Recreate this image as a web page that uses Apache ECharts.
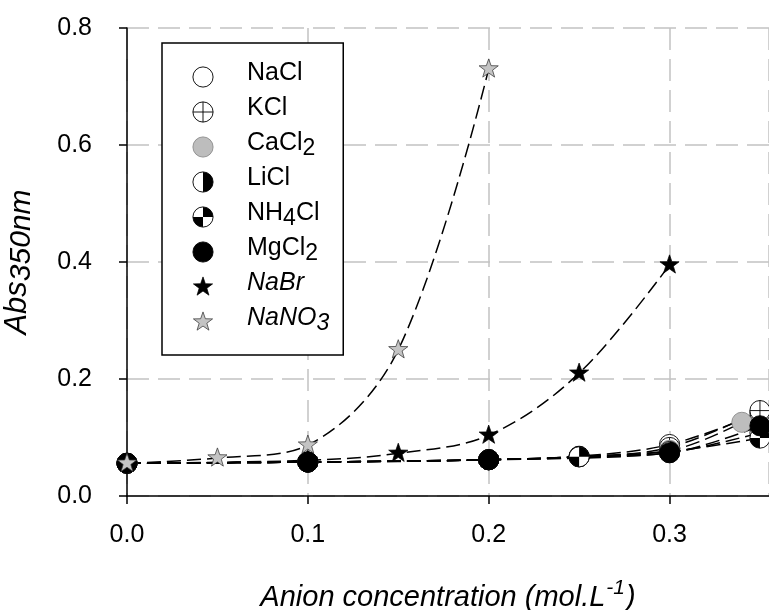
<!DOCTYPE html>
<html>
<head>
<meta charset="utf-8">
<script src="https://cdn.jsdelivr.net/npm/echarts@6/dist/echarts.min.js"></script>
<style>
  html, body { margin: 0; padding: 0; background: #fff; }
  #chart { width: 769px; height: 610px; }
</style>
</head>
<body>
<div id="chart"></div>
<script>
// values
const seriesNames = ["NaCl", "KCl", "CaCl2", "LiCl", "NH4Cl", "MgCl2", "NaBr", "NaNO3"];

const naclX = [0, 0.1, 0.2, 0.25, 0.3, 0.35];
const naclY = [0.056, 0.058, 0.062, 0.068, 0.088, 0.142];
const kclX = [0, 0.1, 0.2, 0.25, 0.3, 0.35];
const kclY = [0.056, 0.058, 0.062, 0.067, 0.083, 0.146];
const cacl2X = [0, 0.1, 0.2, 0.3, 0.34];
const cacl2Y = [0.056, 0.058, 0.062, 0.078, 0.126];
const liclX = [0, 0.1, 0.2, 0.25, 0.3, 0.35];
const liclY = [0.056, 0.058, 0.062, 0.067, 0.074, 0.108];
const nh4clX = [0, 0.1, 0.2, 0.25, 0.3, 0.35];
const nh4clY = [0.056, 0.058, 0.062, 0.067, 0.076, 0.099];
const mgcl2X = [0, 0.1, 0.2, 0.3, 0.35];
const mgcl2Y = [0.056, 0.058, 0.062, 0.074, 0.12];
const nabrX = [0, 0.1, 0.15, 0.2, 0.25, 0.3];
const nabrY = [0.056, 0.061, 0.073, 0.104, 0.21, 0.395];
const nano3X = [0, 0.05, 0.1, 0.15, 0.2];
const nano3Y = [0.056, 0.065, 0.087, 0.25, 0.73];

const xTicks = [0, 0.1, 0.2, 0.3];
const yTicks = [0, 0.2, 0.4, 0.6, 0.8];

const FONT = 'Arial, "Liberation Sans", sans-serif';

function svgIcon(body) {
  const svg = "<svg xmlns='http://www.w3.org/2000/svg' width='24' height='24' viewBox='0 0 24 24'>" + body + "</svg>";
  return "image://data:image/svg+xml;utf8," + encodeURIComponent(svg);
}
const ring = "<circle cx='12' cy='12' r='11' fill='white' stroke='black' stroke-width='1'/>";
const starPath = "M12 1 L14.59 8.44 L22.46 8.6 L16.18 13.36 L18.47 20.9 L12 16.4 L5.53 20.9 L7.82 13.36 L1.54 8.6 L9.41 8.44 Z";

const icons = {
  NaCl: svgIcon(ring),
  KCl: svgIcon(ring + "<path d='M12 1 V23 M1 12 H23' stroke='black' stroke-width='1'/>"),
  CaCl2: svgIcon("<circle cx='12' cy='12' r='11' fill='#bdbdbd' stroke='#8c8c8c' stroke-width='1'/>"),
  LiCl: svgIcon(ring + "<path d='M12 1 A11 11 0 0 1 12 23 Z' fill='black'/>"),
  NH4Cl: svgIcon(ring + "<path d='M12 12 L12 1 A11 11 0 0 1 23 12 Z M12 12 L12 23 A11 11 0 0 1 1 12 Z' fill='black'/>"),
  MgCl2: svgIcon("<circle cx='12' cy='12' r='11' fill='black' stroke='black' stroke-width='1'/>"),
  NaBr: svgIcon("<path d='" + starPath + "' fill='black' stroke='black' stroke-width='0.8'/>"),
  NaNO3: svgIcon("<path d='" + starPath + "' fill='#c4c4c4' stroke='#333' stroke-width='0.8'/>")
};

const legendLabels = {
  NaCl: "{n|NaCl}",
  KCl: "{n|KCl}",
  CaCl2: "{n|CaCl}{s|2}",
  LiCl: "{n|LiCl}",
  NH4Cl: "{n|NH}{s|4}{n|Cl}",
  MgCl2: "{n|MgCl}{s|2}",
  NaBr: "{i|NaBr}",
  NaNO3: "{i|NaNO}{si|3}"
};

const xyData = {
  NaCl: [naclX, naclY], KCl: [kclX, kclY], CaCl2: [cacl2X, cacl2Y], LiCl: [liclX, liclY],
  NH4Cl: [nh4clX, nh4clY], MgCl2: [mgcl2X, mgcl2Y], NaBr: [nabrX, nabrY], NaNO3: [nano3X, nano3Y]
};

const series = seriesNames.map((name) => {
  const [xs, ys] = xyData[name];
  return {
    name,
    type: "line",
    smooth: 0.35,
    data: xs.map((x, i) => [x, ys[i]]),
    symbol: icons[name],
    symbolSize: 22,
    showAllSymbol: true,
    lineStyle: { color: "#000", width: 1.5, type: [14, 6] },
    itemStyle: { color: "#000" },
    emphasis: { disabled: true },
    animation: false
  };
});

const chart = echarts.init(document.getElementById("chart"), null, { renderer: "canvas" });
chart.setOption({
  backgroundColor: "#fff",
  animation: false,
  grid: { left: 127, top: 28, right: 0, bottom: 114, containLabel: false, outerBoundsMode: "none" },
  xAxis: {
    type: "value",
    min: 0,
    max: 0.355,
    interval: 0.1,
    name: "{t|Anion concentration (mol.L}{sup|-1}{t|)}",
    nameLocation: "middle",
    nameGap: 84,
    nameTextStyle: {
      rich: {
        t: { fontFamily: FONT, fontSize: 29, fontStyle: "italic", color: "#000", verticalAlign: "bottom", lineHeight: 32 },
        sup: { fontFamily: FONT, fontSize: 21, fontStyle: "italic", color: "#000", verticalAlign: "bottom", lineHeight: 23, padding: [0, 1, 13, 1] }
      }
    },
    axisLine: { show: true, lineStyle: { color: "#000", width: 1.5 } },
    axisTick: { show: true, inside: false, length: 8, lineStyle: { color: "#000", width: 1.5 } },
    axisLabel: {
      color: "#000", fontFamily: FONT, fontSize: 25, margin: 27,
      showMaxLabel: false,
      formatter: (v) => (xTicks.some((t) => Math.abs(t - v) < 1e-9) ? v.toFixed(1) : "")
    },
    splitLine: { show: true, lineStyle: { color: "#c2c2c2", width: 1.5, type: [22, 9] } }
  },
  yAxis: {
    type: "value",
    min: 0,
    max: 0.8,
    interval: 0.2,
    name: "{t|Abs}{s|350nm}",
    nameLocation: "middle",
    nameRotate: 90,
    nameGap: 90,
    nameTextStyle: {
      rich: {
        t: { fontFamily: FONT, fontSize: 31, fontStyle: "italic", color: "#000", verticalAlign: "bottom", lineHeight: 33, padding: [0, 0, 4, 0] },
        s: { fontFamily: FONT, fontSize: 30, fontStyle: "italic", color: "#000", verticalAlign: "bottom", lineHeight: 31 }
      }
    },
    axisLine: { show: true, lineStyle: { color: "#000", width: 1.5 } },
    axisTick: { show: true, inside: false, length: 8, lineStyle: { color: "#000", width: 1.5 } },
    axisLabel: {
      color: "#000", fontFamily: FONT, fontSize: 25, margin: 35,
      formatter: (v) => (yTicks.some((t) => Math.abs(t - v) < 1e-9) ? v.toFixed(1) : "")
    },
    splitLine: { show: true, lineStyle: { color: "#c2c2c2", width: 1.5, type: [22, 9] } }
  },
  legend: {
    orient: "vertical",
    left: 162,
    top: 43,
    padding: [18, 14, 20, 30],
    itemGap: 6,
    itemWidth: 22,
    itemHeight: 22,
    borderColor: "#000",
    borderWidth: 1.5,
    backgroundColor: "#fff",
    selectedMode: false,
    data: seriesNames.map((name) => ({ name, icon: icons[name] })),
    formatter: (name) => legendLabels[name],
    textStyle: {
      padding: [0, 0, 0, 28],
      rich: {
        n: { fontFamily: FONT, fontSize: 25, color: "#000", verticalAlign: "bottom", lineHeight: 26, padding: [0, 0, 4, 0] },
        i: { fontFamily: FONT, fontSize: 25, fontStyle: "italic", color: "#000", verticalAlign: "bottom", lineHeight: 26, padding: [0, 0, 4, 0] },
        s: { fontFamily: FONT, fontSize: 23, color: "#000", verticalAlign: "bottom", lineHeight: 24 },
        si: { fontFamily: FONT, fontSize: 23, fontStyle: "italic", color: "#000", verticalAlign: "bottom", lineHeight: 24 }
      }
    }
  },
  series
});
</script>
</body>
</html>
